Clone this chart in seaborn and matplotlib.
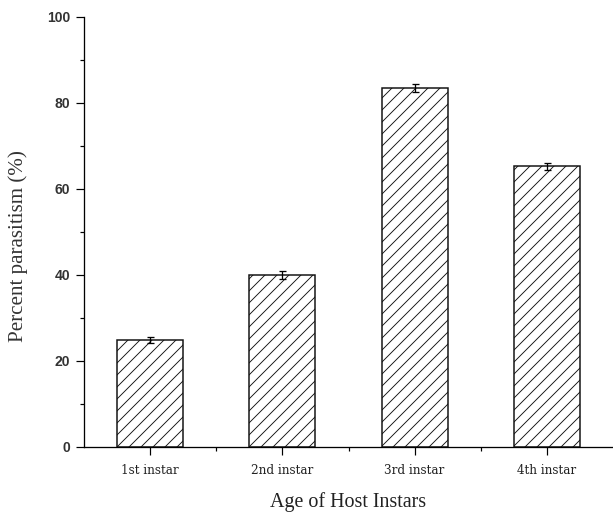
import numpy as np
import pandas as pd
import matplotlib
matplotlib.use("Agg")
import matplotlib.pyplot as plt
import seaborn as sns
from matplotlib.ticker import MultipleLocator, FixedLocator

# Data
stages = ["1st instar", "2nd instar", "3rd instar", "4th instar"]
parasitism = [24.9, 40.0, 83.5, 65.3]
errors = [0.7, 1.0, 1.0, 0.8]

sns.set_theme(style="ticks")
plt.rcParams["hatch.linewidth"] = 0.9

df = pd.DataFrame({"stage": stages, "value": parasitism})

fig = plt.figure(figsize=(613 / 72, 516 / 72), dpi=72)
ax = fig.add_axes([84 / 613, 1 - 447 / 516, 1 - 84 / 613, (447 - 17) / 516])

sns.barplot(data=df, x="stage", y="value", ax=ax, width=0.5, color="white",
            edgecolor="#111111", linewidth=1.5, hatch="//", saturation=1, errorbar=None)
ax.errorbar(np.arange(len(stages)), parasitism, yerr=errors, fmt="none",
            ecolor="black", elinewidth=1.3, capsize=3.5, capthick=1.3)

ax.set_xlim(-0.5, 3.5)
ax.set_ylim(0, 100)
sns.despine(ax=ax)
for s in ["left", "bottom"]:
    ax.spines[s].set_linewidth(1.3)
    ax.spines[s].set_color("black")

ax.yaxis.set_major_locator(MultipleLocator(20))
ax.yaxis.set_minor_locator(MultipleLocator(10))
ax.xaxis.set_minor_locator(FixedLocator([0.5, 1.5, 2.5]))
ax.tick_params(axis="both", which="major", length=8, width=1.2, color="black")
ax.tick_params(axis="both", which="minor", length=4, width=1.2, color="black")
ax.tick_params(axis="y", which="major", labelsize=14, pad=6, labelcolor="#333333")
ax.tick_params(axis="x", which="major", labelsize=12, pad=9, labelcolor="#222222")
for lab in ax.get_yticklabels():
    lab.set_family("Liberation Sans")
    lab.set_fontweight("bold")
for lab in ax.get_xticklabels():
    lab.set_family("DejaVu Serif")

ax.set_ylabel("Percent parasitism (%)", family="Liberation Serif", fontsize=21,
              color="#333333")
ax.yaxis.set_label_coords(-0.106, 0.467)
ax.set_xlabel("Age of Host Instars", family="Liberation Serif", fontsize=20,
              color="#222222", labelpad=15)

fig.savefig("out.png", dpi=72)
